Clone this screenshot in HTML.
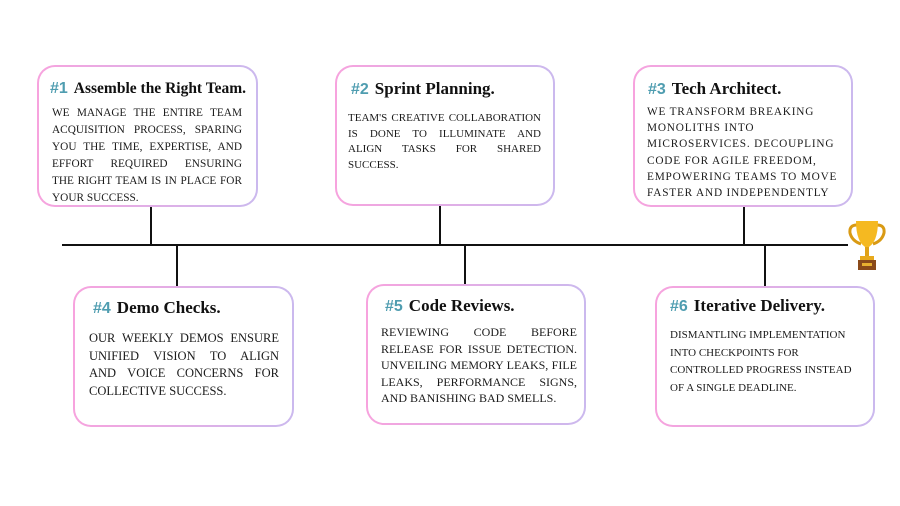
<!DOCTYPE html>
<html><head><meta charset="utf-8"><style>
body{margin:0;width:900px;height:506px;background:#fff;position:relative;overflow:hidden;font-family:"Liberation Serif",serif;}
.b{position:absolute;box-sizing:border-box;border:2px solid transparent;border-radius:18px;background:linear-gradient(#fff,#fff) padding-box,linear-gradient(90deg,#f7a3de,#cbb9ee) border-box;}
.t{position:absolute;font-weight:bold;font-size:17px;color:#111;white-space:nowrap;}
.t span{font-family:"Liberation Sans",sans-serif;color:#4f9db0;font-size:16px;margin-right:6px;}
.p{position:absolute;font-size:12px;color:#1a1a1a;white-space:nowrap;}
.p div{text-align:justify;text-align-last:justify;}
.p div.e{text-align-last:left;}
.l{position:absolute;background:#111;}
</style></head><body>
<div class="l" style="left:62px;top:244px;width:786px;height:2px"></div>
<div class="l" style="left:150px;top:207px;width:2px;height:38px"></div>
<div class="l" style="left:439px;top:206px;width:2px;height:39px"></div>
<div class="l" style="left:743px;top:207px;width:2px;height:38px"></div>
<div class="l" style="left:176px;top:245px;width:2px;height:41px"></div>
<div class="l" style="left:464px;top:245px;width:2px;height:39px"></div>
<div class="l" style="left:764px;top:245px;width:2px;height:41px"></div>

<div class="b" style="left:37px;top:65px;width:221px;height:142px"></div>
<div class="t" style="left:50px;top:80px;font-size:15.5px"><span>#1</span>Assemble the Right Team.</div>
<div class="p" style="left:52px;top:105px;width:190px;line-height:17px;font-size:11.3px"><div>WE MANAGE THE ENTIRE TEAM</div><div>ACQUISITION PROCESS, SPARING</div><div>YOU THE TIME, EXPERTISE, AND</div><div>EFFORT REQUIRED ENSURING</div><div>THE RIGHT TEAM IS IN PLACE FOR</div><div class="e">YOUR SUCCESS.</div></div>

<div class="b" style="left:335px;top:65px;width:220px;height:141px"></div>
<div class="t" style="left:351px;top:79px"><span>#2</span>Sprint Planning.</div>
<div class="p" style="left:348px;top:111px;width:193px;line-height:15.5px;font-size:11px"><div>TEAM'S CREATIVE COLLABORATION</div><div>IS DONE TO ILLUMINATE AND</div><div>ALIGN TASKS FOR SHARED</div><div class="e">SUCCESS.</div></div>

<div class="b" style="left:633px;top:65px;width:220px;height:142px"></div>
<div class="t" style="left:648px;top:79px"><span>#3</span>Tech Architect.</div>
<div class="p" style="left:647px;top:104px;width:200px;letter-spacing:0.8px;line-height:16.2px;font-size:11.3px"><div class="e">WE TRANSFORM BREAKING</div><div class="e">MONOLITHS INTO</div><div class="e">MICROSERVICES. DECOUPLING</div><div class="e">CODE FOR AGILE FREEDOM,</div><div class="e">EMPOWERING TEAMS TO MOVE</div><div class="e">FASTER AND INDEPENDENTLY</div></div>

<div class="b" style="left:73px;top:286px;width:221px;height:141px"></div>
<div class="t" style="left:93px;top:298px"><span>#4</span>Demo Checks.</div>
<div class="p" style="left:89px;top:330px;width:190px;font-size:12.5px;line-height:17.5px"><div>OUR WEEKLY DEMOS ENSURE</div><div>UNIFIED VISION TO ALIGN</div><div>AND VOICE CONCERNS FOR</div><div class="e">COLLECTIVE SUCCESS.</div></div>

<div class="b" style="left:366px;top:284px;width:220px;height:141px"></div>
<div class="t" style="left:385px;top:296px"><span>#5</span>Code Reviews.</div>
<div class="p" style="left:381px;top:324px;width:196px;line-height:16.5px"><div>REVIEWING CODE BEFORE</div><div>RELEASE FOR ISSUE DETECTION.</div><div>UNVEILING MEMORY LEAKS, FILE</div><div>LEAKS, PERFORMANCE SIGNS,</div><div class="e">AND BANISHING BAD SMELLS.</div></div>

<div class="b" style="left:655px;top:286px;width:220px;height:141px"></div>
<div class="t" style="left:670px;top:296px"><span>#6</span>Iterative Delivery.</div>
<div class="p" style="left:670px;top:327px;width:190px;font-size:11px;line-height:17.5px"><div class="e">DISMANTLING IMPLEMENTATION</div><div class="e">INTO CHECKPOINTS FOR</div><div class="e">CONTROLLED PROGRESS INSTEAD</div><div class="e">OF A SINGLE DEADLINE.</div></div>

<svg style="position:absolute;left:848px;top:219px" width="38" height="54" viewBox="0 0 38 54">
<path d="M9 6 Q1 6 2 14 Q4 22 13 25" fill="none" stroke="#d99a14" stroke-width="3"/>
<path d="M29 6 Q37 6 36 14 Q34 22 25 25" fill="none" stroke="#d99a14" stroke-width="3"/>
<path d="M8 2 H30 Q30 24 19 29 Q8 24 8 2Z" fill="#f5b921"/>
<rect x="17" y="28" width="4" height="9" fill="#e0a218"/>
<rect x="12" y="37" width="14" height="4" fill="#e8aa1d"/>
<rect x="10" y="41" width="18" height="10" fill="#8a4a1a"/>
<rect x="14" y="44" width="10" height="3" fill="#e8b030"/>
</svg>
</body></html>
